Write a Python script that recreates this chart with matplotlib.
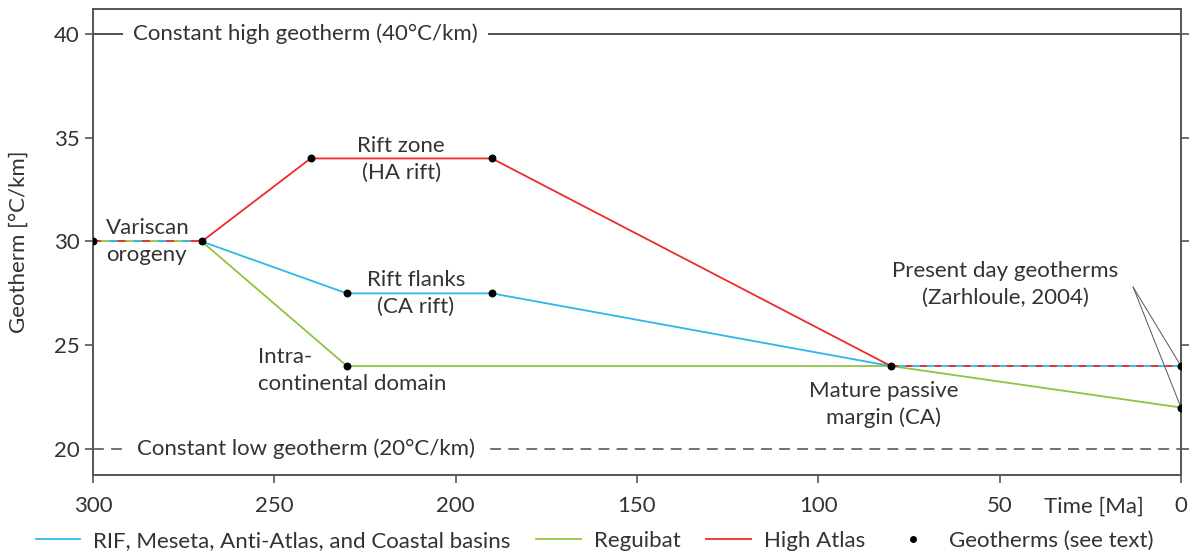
import matplotlib
matplotlib.use("Agg")
import matplotlib.pyplot as plt
from matplotlib.lines import Line2D
import matplotlib.transforms as mtransforms

plt.rcParams['font.family'] = ['Lato', 'DejaVu Sans']

# ---- data ----
variscan_t = [300, 270]
variscan_g = [30, 30]
rif_t = [270, 230, 190, 80]
rif_g = [30, 27.5, 27.5, 24]
reguibat_t = [270, 230, 80, 0]
reguibat_g = [30, 24, 24, 22]
atlas_t = [270, 240, 190, 80]
atlas_g = [30, 34, 34, 24]
passive_t = [80, 0]
passive_g = [24, 24]
points_t = [300, 270, 240, 190, 230, 190, 230, 80, 0, 0]
points_g = [30, 30, 34, 34, 27.5, 27.5, 24, 24, 24, 22]
high_geotherm = 40
low_geotherm = 20
x_ticks = [300, 250, 200, 150, 100, 50, 0]
y_ticks = [20, 25, 30, 35, 40]

BLUE = '#2db7ea'
GREEN = '#8cc63f'
RED = '#ee2b2b'
TXT = '#333333'
SPINE = '#555555'
FS = 16
LS = 1.42

fig = plt.figure(figsize=(11.89, 5.55), dpi=100)
ax = fig.add_axes([93/1189, 80/555, 1088/1189, 466/555])

lw = 1.3
# constant geotherms
ax.axhline(high_geotherm, color='#222222', lw=1.1, zorder=1)
ax.axhline(low_geotherm, color='#666666', lw=1.3, dashes=(6, 4), zorder=1)
ax.text(289, high_geotherm, 'Constant high geotherm (40°C/km)', fontsize=FS, color=TXT,
        va='center', ha='left', zorder=2,
        bbox=dict(boxstyle='square,pad=0.45', fc='white', ec='none'))
ax.text(288, low_geotherm, 'Constant low geotherm (20°C/km)', fontsize=FS, color=TXT,
        va='center', ha='left', zorder=2,
        bbox=dict(boxstyle='square,pad=0.45', fc='white', ec='none'))

# series
ax.plot(reguibat_t, reguibat_g, color=GREEN, lw=lw, zorder=3)
ax.plot(rif_t, rif_g, color=BLUE, lw=lw, zorder=3)
ax.plot(atlas_t, atlas_g, color=RED, lw=lw, zorder=3)

# shared dashed segments
ax.plot(variscan_t, variscan_g, color=GREEN, lw=lw, zorder=3)
ax.plot(variscan_t, variscan_g, color=RED, lw=lw, ls=(0, (4.5, 9)), zorder=4)
ax.plot(variscan_t, variscan_g, color=BLUE, lw=lw, ls=(4.5, (4.5, 9)), zorder=4)
ax.plot(passive_t, passive_g, color=BLUE, lw=lw, zorder=3)
ax.plot(passive_t, passive_g, color=RED, lw=lw, ls=(0, (4, 4)), zorder=4)

ax.scatter(points_t, points_g, s=22, color='black', zorder=6)

# annotations
ax.text(296.5, 30, 'Variscan\norogeny', fontsize=FS, color=TXT, ha='left', va='center',
        linespacing=LS)
ax.text(215, 33.95, 'Rift zone\n(HA rift)', fontsize=FS, color=TXT, ha='center', va='center',
        linespacing=LS)
ax.text(211, 27.5, 'Rift flanks\n(CA rift)', fontsize=FS, color=TXT, ha='center', va='center',
        linespacing=LS)
ax.text(254.5, 23.8, 'Intra-\ncontinental domain', fontsize=FS, color=TXT, ha='left',
        va='center', linespacing=LS)
ax.text(82, 22.15, 'Mature passive\nmargin (CA)', fontsize=FS, color=TXT, ha='center',
        va='center', linespacing=LS)
ax.text(48.5, 27.95, 'Present day geotherms\n(Zarhloule, 2004)', fontsize=FS, color=TXT,
        ha='center', va='center', linespacing=LS)
for tt, gg in [(points_t[-2], points_g[-2]), (points_t[-1], points_g[-1])]:
    ax.plot([13.2, tt], [27.8, gg], color='#555555', lw=0.7, zorder=5)

# axes
ax.set_xlim(300, 0)
ax.set_ylim(18.75, 41.2)
ax.set_xticks(x_ticks)
ax.set_yticks(y_ticks)
ax.tick_params(axis='both', labelsize=FS, colors=SPINE, labelcolor=TXT, length=6, width=1.2)
ax.tick_params(axis='x', pad=9)
ax.tick_params(axis='y', right=True, labelright=False)
for s in ax.spines.values():
    s.set_color(SPINE)
    s.set_linewidth(1.4)
ax.set_ylabel('Geotherm [°C/km]', fontsize=FS, color=TXT, labelpad=18)
trans = mtransforms.blended_transform_factory(ax.transData, ax.transAxes)
ax.text(24, -0.046, 'Time [Ma]', fontsize=FS, color=TXT, ha='center', va='top',
        transform=trans)

handles = [
    Line2D([], [], color=BLUE, lw=lw),
    Line2D([], [], color=GREEN, lw=lw),
    Line2D([], [], color=RED, lw=lw),
    Line2D([], [], color='black', marker='o', ls='none', markersize=4),
]
labels = ['RIF, Meseta, Anti-Atlas, and Coastal basins', 'Reguibat', 'High Atlas',
          'Geotherms (see text)']
fig.legend(handles, labels, loc='center', bbox_to_anchor=(0.5, 14/555), ncol=4,
           frameon=False, fontsize=FS, handlelength=2.0, handletextpad=0.6,
           columnspacing=1.15, labelcolor=TXT)

fig.savefig('out.png', dpi=100)
